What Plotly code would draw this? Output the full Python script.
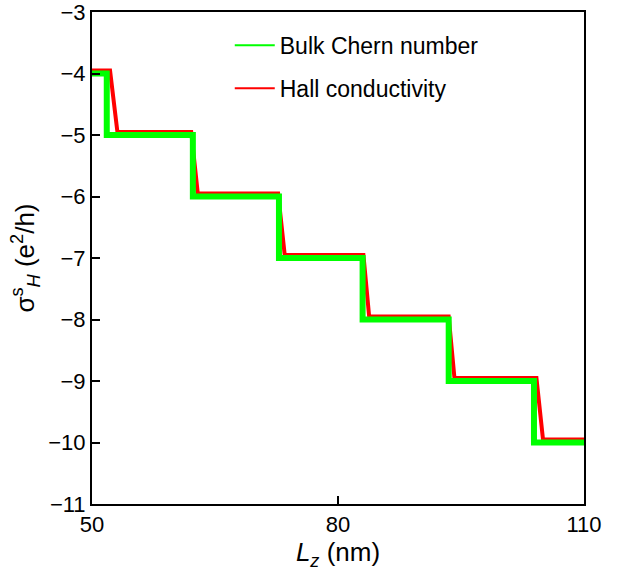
import plotly.graph_objects as go

# Bulk Chern number (step function)
chern_x = [50, 51.8, 51.8, 62.3, 62.3, 72.8, 72.8, 83.0, 83.0, 93.5, 93.5, 103.9, 103.9, 110]
chern_y = [-4, -4, -5, -5, -6, -6, -7, -7, -8, -8, -9, -9, -10, -10]

# Hall conductivity
hall_x = [50, 52.2, 53.1, 62.1, 62.9, 72.7, 73.5, 83.1, 83.8, 93.5, 94.2, 104.2, 105.0, 110]
hall_y = [-3.95, -3.95, -4.95, -4.95, -5.95, -5.95, -6.95, -6.95, -7.95, -7.95, -8.95, -8.95, -9.95, -9.95]

FONT = "Arial, Liberation Sans, sans-serif"

fig = go.Figure()
fig.add_trace(go.Scatter(x=hall_x, y=hall_y, mode="lines",
                         line=dict(color="#ff0000", width=4), showlegend=False))
fig.add_trace(go.Scatter(x=chern_x, y=chern_y, mode="lines",
                         line=dict(color="#00ff00", width=6), showlegend=False))
# legend-only entries
fig.add_trace(go.Scatter(x=[None], y=[None], mode="lines", name="Bulk Chern number",
                         line=dict(color="#00ff00", width=2), legendgroup="a"))
fig.add_trace(go.Scatter(x=[None], y=[None], mode="lines", name="Hall conductivity",
                         line=dict(color="#ff0000", width=2), legendgroup="b"))

axis_common = dict(showgrid=False, zeroline=False, showline=True, linecolor="black",
                   linewidth=2, mirror=True, ticks="inside", ticklen=8, tickwidth=2,
                   tickcolor="black", automargin=False, ticklabeloverflow="allow",
                   tickfont=dict(family=FONT, size=22, color="black"))

fig.update_layout(
    width=631, height=572,
    margin=dict(l=92, r=47, t=12, b=68),
    plot_bgcolor="white", paper_bgcolor="white",
    font=dict(family=FONT, size=22, color="black"),
    xaxis=dict(range=[50, 110], tickvals=[50, 80, 110],
               title=dict(text="<i>L</i><sub><i>z</i></sub> (nm)", standoff=2,
                          font=dict(family=FONT, size=26, color="black")),
               **axis_common),
    yaxis=dict(range=[-11, -3], dtick=1,
               title=dict(text="σ<sup>s</sup><sub><i>H</i></sub> (e<sup>2</sup>/h)", standoff=6,
                          font=dict(family=FONT, size=26, color="black")),
               **axis_common),
    legend=dict(x=0.28, y=0.976, xanchor="left", yanchor="top",
                bgcolor="rgba(0,0,0,0)", borderwidth=0,
                tracegroupgap=10, itemwidth=40,
                font=dict(family=FONT, size=23, color="black")),
)

fig.write_html("out.html")
